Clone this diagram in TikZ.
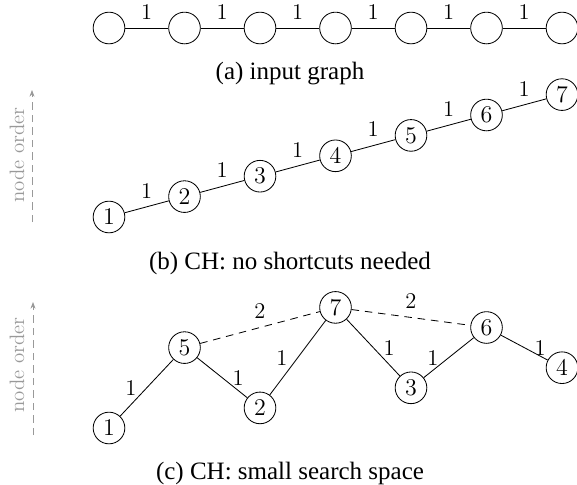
\documentclass[tikz,border=0pt]{standalone}
\usepackage{fontspec}
\newfontfamily\capfont{Liberation Serif}
\usetikzlibrary{arrows.meta}
\newcommand{\vfont}{\fontsize{13.5}{15}\selectfont}

\tikzset{
  vtx/.style={circle, draw, line width=0.5pt, minimum size=19pt, inner sep=0pt, font=\vfont},
  wt/.style={font=\vfont, inner sep=2pt},
  sc/.style={dashed, dash pattern=on 4.5pt off 3.5pt},
  ord/.style={draw=black!40, dash pattern=on 4.5pt off 3pt, -{Stealth[length=4pt,width=3pt]}},
  ordtext/.style={text=black!40, rotate=90, font=\fontsize{12.5}{14}\selectfont},
  subcap/.style={anchor=base, font=\capfont\fontsize{15}{17}\selectfont}
}

\begin{document}
\begin{tikzpicture}[x=0.6pt, y=-0.6pt, line width=0.5pt]
  \useasboundingbox (0,0) rectangle (577,484);

  % (a) input graph
  \foreach \i in {0,...,6}
    \node[vtx] (a\i) at (109+75.5*\i, 28) {};
  \foreach \i [count=\j from 1] in {0,...,5}
    \draw (a\i) -- node[wt, above=3pt] {1} (a\j);
  \node[subcap] (capa) at (290, 79) {(a)\ input graph};

  % (b) CH: no shortcuts needed
  \foreach \k in {1,...,7}
    \node[vtx] (b\k) at (109+75.5*\k-75.5, 217-20.4*\k+20.4) {$\k$};
  \foreach \k [count=\l from 2] in {1,...,6}
    \draw (b\k) -- node[wt, above=3pt] {1} (b\l);
  \coordinate (ob0) at (32,222);
  \coordinate (ob1) at (32,90);
  \draw[ord] (ob0) -- (ob1);
  \node[ordtext] (otb) at (17,155) {node order};
  \node[subcap] (capb) at (290, 269) {(b)\ CH: no shortcuts needed};

  % (c) CH: small search space
  \foreach \k/\p in {1/0, 5/1, 2/2, 7/3, 3/4, 6/5, 4/6}
    \node[vtx] (c\k) at (109+75.5*\p, 428-20.1*\k+20.1) {$\k$};
  \draw (c1) -- node[wt, left=4pt] {1} (c5);
  \draw (c5) -- node[wt, right=4pt] {1} (c2);
  \draw (c2) -- node[wt, left=4pt] {1} (c7);
  \draw (c7) -- node[wt, right=4pt] {1} (c3);
  \draw (c3) -- node[wt, left=4pt] {1} (c6);
  \draw (c6) -- node[wt, right=4pt] {1} (c4);
  \draw[sc] (c5) -- node[wt, above=3pt] {2} (c7);
  \draw[sc] (c7) -- node[wt, above=3pt] {2} (c6);
  \coordinate (oc0) at (33,435);
  \coordinate (oc1) at (33,302);
  \draw[ord] (oc0) -- (oc1);
  \node[ordtext] (otc) at (17,365) {node order};
  \node[subcap] (capc) at (290, 479) {(c)\ CH: small search space};
\end{tikzpicture}
\end{document}
